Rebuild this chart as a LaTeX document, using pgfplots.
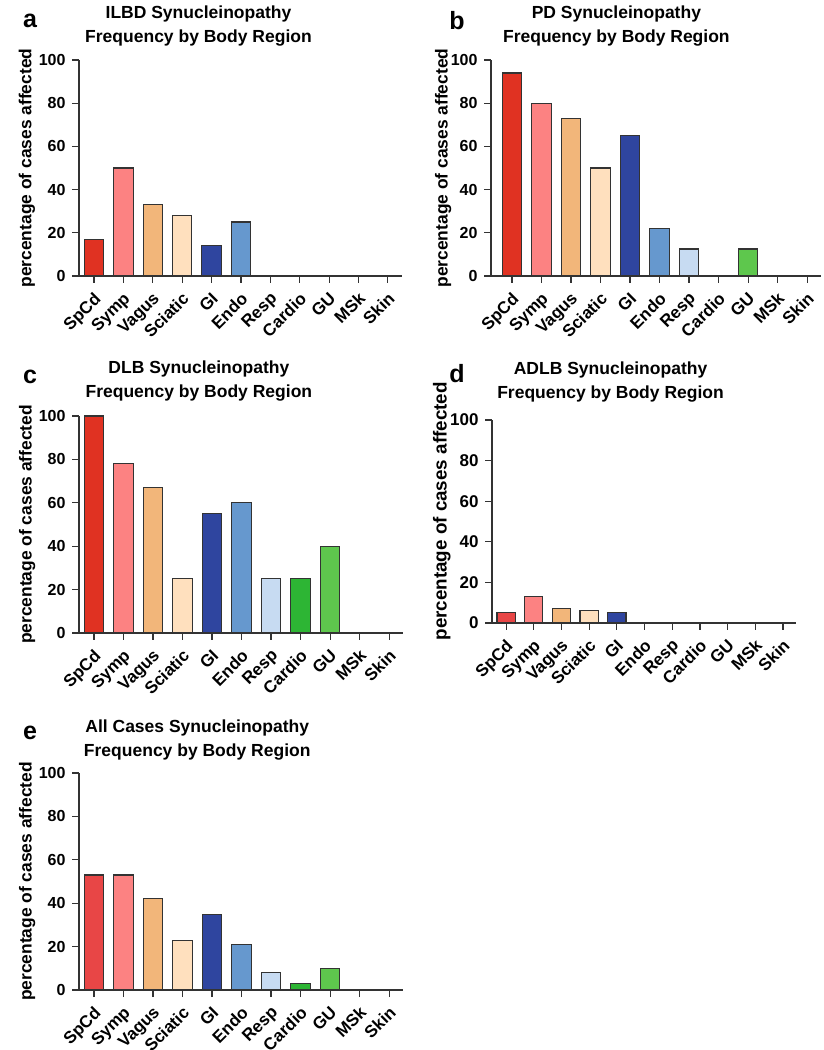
\documentclass[border=0pt]{standalone}
\usepackage{fontspec}
\setmainfont{Liberation Sans}
\usepackage{pgfplots}
\pgfplotsset{compat=1.18}

\definecolor{cSpCd}{HTML}{E03222}
\definecolor{cSpCdL}{HTML}{E84646}
\definecolor{cSymp}{HTML}{FC8282}
\definecolor{cVagus}{HTML}{F2B67A}
\definecolor{cSciatic}{HTML}{FFE0BE}
\definecolor{cGI}{HTML}{2F459F}
\definecolor{cEndo}{HTML}{6698CE}
\definecolor{cResp}{HTML}{C7DBF2}
\definecolor{cCardio}{HTML}{2DB534}
\definecolor{cGU}{HTML}{5EC74D}
\definecolor{edge}{HTML}{333333}

\pgfplotsset{
  panel/.style={
    scale only axis,
    axis x line*=bottom, axis y line*=left,
    axis line style={-, line width=1.3pt, draw=edge},
    x axis line style={shorten <=-6pt},
    ymin=0, ymax=100, ytick={0,20,...,100},
    xtick={0,...,10},
    xticklabels={SpCd,Symp,Vagus,Sciatic,GI,Endo,Resp,Cardio,GU,MSk,Skin},
    tick align=outside, major tick length=7pt,
    tick style={line width=1.2pt, draw=edge},
    /pgf/number format/assume math mode=true,
    yticklabel style={xshift=-3pt, font=\bfseries\fontsize{16}{16}\selectfont},
    xticklabel style={inner sep=0pt, xshift=-1pt, yshift=-8pt, rotate=45, anchor=north east, font=\bfseries\fontsize{17}{17}\selectfont},
    ylabel={percentage of cases affected},
    title style={anchor=south, align=center, inner sep=0pt,
      font=\bfseries\fontsize{17.5}{24}\selectfont},
    clip=false,
  },
  bb/.style={ybar, bar width=0.66, bar shift=0pt, draw=edge, line width=1.1pt, fill=#1},
}

\begin{document}
\begin{tikzpicture}
\useasboundingbox (0pt,0pt) rectangle (823pt,1050pt);

% ---------- a ----------
\begin{axis}[panel, at={(79pt,774pt)}, anchor=south west, width=323pt, height=216pt,
  xmin=-0.51, xmax=10.48,
  title={ILBD Synucleinopathy\\Frequency by Body Region},
  title style={at={(axis description cs:0.37,1)}, yshift=8pt},
  ylabel style={at={(axis description cs:-0.161,0.5)}, anchor=center, font=\bfseries\fontsize{17.4}{17.4}\selectfont}]
\addplot[bb=cSpCd] coordinates {(0,17)};
\addplot[bb=cSymp] coordinates {(1,50)};
\addplot[bb=cVagus] coordinates {(2,33)};
\addplot[bb=cSciatic] coordinates {(3,28)};
\addplot[bb=cGI] coordinates {(4,14)};
\addplot[bb=cEndo] coordinates {(5,25)};
\end{axis}

% ---------- b ----------
\begin{axis}[panel, at={(491pt,774pt)}, anchor=south west, width=330pt, height=216pt,
  xmin=-0.71, xmax=10.47,
  title={PD Synucleinopathy\\Frequency by Body Region},
  title style={at={(axis description cs:0.38,1)}, yshift=8pt},
  ylabel style={at={(axis description cs:-0.145,0.5)}, anchor=center, font=\bfseries\fontsize{17.4}{17.4}\selectfont}]
\addplot[bb=cSpCd] coordinates {(0,94)};
\addplot[bb=cSymp] coordinates {(1,80)};
\addplot[bb=cVagus] coordinates {(2,73)};
\addplot[bb=cSciatic] coordinates {(3,50)};
\addplot[bb=cGI] coordinates {(4,65)};
\addplot[bb=cEndo] coordinates {(5,22)};
\addplot[bb=cResp] coordinates {(6,12.5)};
\addplot[bb=cGU] coordinates {(8,12.5)};
\end{axis}

% ---------- c ----------
\begin{axis}[panel, at={(79pt,417pt)}, anchor=south west, width=324pt, height=217pt,
  xmin=-0.51, xmax=10.47,
  title={DLB Synucleinopathy\\Frequency by Body Region},
  title style={at={(axis description cs:0.37,1)}, yshift=9pt},
  ylabel style={at={(axis description cs:-0.160,0.5)}, anchor=center, font=\bfseries\fontsize{17.4}{17.4}\selectfont}]
\addplot[bb=cSpCd] coordinates {(0,100)};
\addplot[bb=cSymp] coordinates {(1,78)};
\addplot[bb=cVagus] coordinates {(2,67)};
\addplot[bb=cSciatic] coordinates {(3,25)};
\addplot[bb=cGI] coordinates {(4,55)};
\addplot[bb=cEndo] coordinates {(5,60)};
\addplot[bb=cResp] coordinates {(6,25)};
\addplot[bb=cCardio] coordinates {(7,25)};
\addplot[bb=cGU] coordinates {(8,40)};
\end{axis}

% ---------- d ----------
\begin{axis}[panel, at={(492pt,427pt)}, anchor=south west, width=304pt, height=203pt,
  xmin=-0.51, xmax=10.47,
  title={ADLB Synucleinopathy\\Frequency by Body Region},
  title style={at={(axis description cs:0.39,1)}, yshift=12pt},
  yticklabel style={font=\bfseries\fontsize{17}{17}\selectfont},
  ylabel style={at={(axis description cs:-0.165,0.55)}, anchor=center, font=\bfseries\fontsize{18.8}{18.8}\selectfont}]
\addplot[bb=cSpCdL] coordinates {(0,5)};
\addplot[bb=cSymp] coordinates {(1,13)};
\addplot[bb=cVagus] coordinates {(2,7)};
\addplot[bb=cSciatic] coordinates {(3,6)};
\addplot[bb=cGI] coordinates {(4,5)};
\end{axis}

% ---------- e ----------
\begin{axis}[panel, at={(79pt,60pt)}, anchor=south west, width=324pt, height=217pt,
  xmin=-0.51, xmax=10.47,
  title={All Cases Synucleinopathy\\Frequency by Body Region},
  title style={at={(axis description cs:0.365,1)}, yshift=7pt},
  ylabel style={at={(axis description cs:-0.160,0.5)}, anchor=center, font=\bfseries\fontsize{17.4}{17.4}\selectfont}]
\addplot[bb=cSpCdL] coordinates {(0,53)};
\addplot[bb=cSymp] coordinates {(1,53)};
\addplot[bb=cVagus] coordinates {(2,42)};
\addplot[bb=cSciatic] coordinates {(3,23)};
\addplot[bb=cGI] coordinates {(4,35)};
\addplot[bb=cEndo] coordinates {(5,21)};
\addplot[bb=cResp] coordinates {(6,8)};
\addplot[bb=cCardio] coordinates {(7,3)};
\addplot[bb=cGU] coordinates {(8,10)};
\end{axis}

% panel letters
\node[font=\bfseries\fontsize{25}{25}\selectfont] at (30pt,1029pt) {a};
\node[font=\bfseries\fontsize{25}{25}\selectfont] at (457pt,1029pt) {b};
\node[font=\bfseries\fontsize{25}{25}\selectfont] at (30pt,673pt) {c};
\node[font=\bfseries\fontsize{25}{25}\selectfont] at (457pt,676pt) {d};
\node[font=\bfseries\fontsize{25}{25}\selectfont] at (30pt,317pt) {e};
\end{tikzpicture}
\end{document}
